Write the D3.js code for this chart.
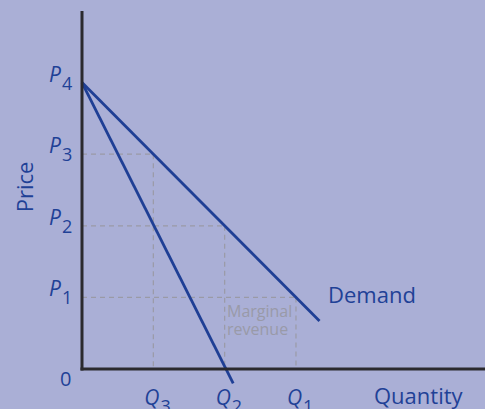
<!DOCTYPE html>
<html>
<head>
<meta charset="utf-8">
<script src="https://cdn.jsdelivr.net/npm/d3@7"></script>
<style>
  body { margin: 0; background: #aaafd6; }
  svg { display: block; font-family: "Open Sans", "Noto Sans", sans-serif; }
  .lbl { fill: #1f4196; }
</style>
</head>
<body>
<div id="chart"></div>
<script>
// price levels and quantity levels (in chart units)
const priceLevels = [1, 2, 3, 4];
const priceLabels = ["1", "2", "3", "4"];
const qtyLevels = [3, 2, 1];
const qtyLabels = ["1", "2", "3"];

// demand and marginal revenue curves
const demandPts = [[0, 4], [3.33, 0.67]];
const mrPts = [[0, 4], [2.12, -0.2]];

// dashed guides: [q, p]
const guides = [[1, 3], [2, 2], [3, 1]];

const width = 485, height = 409;
const x = d3.scaleLinear().domain([0, 5.65]).range([82, 485]);
const y = d3.scaleLinear().domain([0, 5]).range([369, 11]);

const svg = d3.select("#chart").append("svg")
    .attr("width", width)
    .attr("height", height);

svg.append("rect").attr("width", width).attr("height", height).attr("fill", "#aaafd6");

// dashed guide lines
guides.forEach(([q, p]) => {
    svg.append("line")
        .attr("x1", x(0)).attr("x2", x(q))
        .attr("y1", y(p)).attr("y2", y(p))
        .attr("stroke", "#9a9aa6").attr("stroke-width", 1.2)
        .attr("stroke-dasharray", "5,4");
    svg.append("line")
        .attr("x1", x(q)).attr("x2", x(q))
        .attr("y1", y(p)).attr("y2", y(0))
        .attr("stroke", "#9a9aa6").attr("stroke-width", 1.2)
        .attr("stroke-dasharray", "5,4");
});

// curves
const line = d3.line().x(d => x(d[0])).y(d => y(d[1]));
[demandPts, mrPts].forEach(pts => {
    svg.append("path")
        .attr("d", line(pts))
        .attr("fill", "none")
        .attr("stroke", "#1f3f95")
        .attr("stroke-width", 2.8);
});

// axes
svg.append("line")
    .attr("x1", x(0)).attr("x2", x(0))
    .attr("y1", y(5)).attr("y2", y(0) + 1.5)
    .attr("stroke", "#2b2a2e").attr("stroke-width", 3);
svg.append("line")
    .attr("x1", x(0) - 1.5).attr("x2", width)
    .attr("y1", y(0)).attr("y2", y(0))
    .attr("stroke", "#2b2a2e").attr("stroke-width", 3);

// price labels
priceLevels.forEach((p, i) => {
    const t = svg.append("text").attr("class", "lbl")
        .attr("x", 49).attr("y", y(p) - 1)
        .attr("font-size", 21);
    t.append("tspan").attr("font-style", "italic").text("P");
    t.append("tspan").attr("dx", 1).attr("dy", 8).attr("font-size", 18).text(priceLabels[i]);
});

// quantity labels (cut off by the bottom edge, as in the original)
qtyLevels.forEach((q, i) => {
    const t = svg.append("text").attr("class", "lbl")
        .attr("x", x(q) - 9).attr("y", 405)
        .attr("font-size", 21);
    t.append("tspan").attr("font-style", "italic").text("Q");
    t.append("tspan").attr("dx", 1).attr("dy", 8).attr("font-size", 18).text(qtyLabels[i]);
});

svg.append("text").attr("class", "lbl")
    .attr("x", 60).attr("y", 386).attr("font-size", 20).text("0");

svg.append("text").attr("class", "lbl")
    .attr("transform", `translate(33,187) rotate(-90)`)
    .attr("text-anchor", "middle")
    .attr("font-size", 22).text("Price");

svg.append("text").attr("class", "lbl")
    .attr("x", 374).attr("y", 404).attr("font-size", 22).text("Quantity");

svg.append("text").attr("class", "lbl")
    .attr("x", 328).attr("y", 303).attr("font-size", 22).text("Demand");

const mr = svg.append("text")
    .attr("fill", "#999aa8").attr("font-size", 16);
mr.append("tspan").attr("x", 227).attr("y", 317).text("Marginal");
mr.append("tspan").attr("x", 227).attr("y", 335).text("revenue");
</script>
</body>
</html>
